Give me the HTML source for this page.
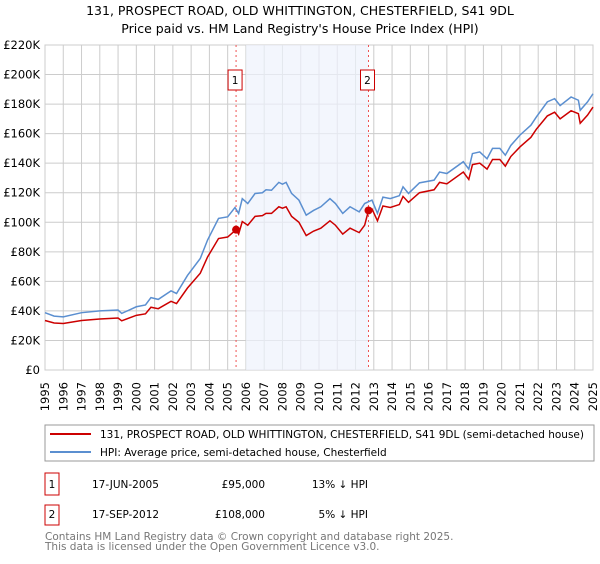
<!DOCTYPE html>
<html><head><meta charset="utf-8"><style>
body{margin:0;background:#fff;font-family:"DejaVu Sans","Liberation Sans",sans-serif;}
svg text{font-family:"DejaVu Sans","Liberation Sans",sans-serif;}
</style></head><body>
<svg id="chart" width="600" height="560" xmlns="http://www.w3.org/2000/svg">
<text x="300" y="15" text-anchor="middle" font-size="12.5" fill="#000">131, PROSPECT ROAD, OLD WHITTINGTON, CHESTERFIELD, S41 9DL</text>
<text x="300" y="33" text-anchor="middle" font-size="12.5" fill="#000">Price paid vs. HM Land Registry's House Price Index (HPI)</text>
<g id="grid"></g><g id="shade"></g><g id="series"></g><g id="axes"></g>
<rect x="45" y="425" width="549" height="36" fill="#fff" stroke="#999"/>
<line x1="50" y1="434" x2="91" y2="434" stroke="#cc0000" stroke-width="2"/>
<text x="100" y="438" font-size="10.5">131, PROSPECT ROAD, OLD WHITTINGTON, CHESTERFIELD, S41 9DL (semi-detached house)</text>
<line x1="50" y1="452" x2="91" y2="452" stroke="#5b8fd0" stroke-width="2"/>
<text x="100" y="456" font-size="10.5">HPI: Average price, semi-detached house, Chesterfield</text>
<g>
<rect x="45" y="473" width="14" height="22" fill="#fff" stroke="#cc0000"/>
<text x="52" y="488" text-anchor="middle" font-size="10.5">1</text>
<text x="92" y="488" font-size="10.5">17-JUN-2005</text>
<text x="265" y="488" text-anchor="end" font-size="10.5">£95,000</text>
<text x="368" y="488" text-anchor="end" font-size="10.5">13% ↓ HPI</text></g>
<g>
<rect x="45" y="505" width="14" height="20" fill="#fff" stroke="#cc0000"/>
<text x="52" y="518" text-anchor="middle" font-size="10.5">2</text>
<text x="92" y="518" font-size="10.5">17-SEP-2012</text>
<text x="265" y="518" text-anchor="end" font-size="10.5">£108,000</text>
<text x="368" y="518" text-anchor="end" font-size="10.5">5% ↓ HPI</text></g>
<text x="45" y="540" font-size="10.5" fill="#777">Contains HM Land Registry data © Crown copyright and database right 2025.</text>
<text x="45" y="550" font-size="10.5" fill="#777">This data is licensed under the Open Government Licence v3.0.</text>
</svg>
<script>
const hpiYears=[1995,1995.5,1996,1997,1998,1999,1999.2,2000,2000.5,2000.8,2001.2,2001.9,2002.2,2002.8,2003.5,2003.9,2004.5,2005,2005.4,2005.6,2005.8,2006.1,2006.5,2006.9,2007.1,2007.4,2007.8,2008,2008.2,2008.5,2008.9,2009.3,2009.7,2010.1,2010.6,2010.9,2011.3,2011.7,2012.2,2012.5,2012.9,2013.2,2013.5,2013.9,2014.4,2014.6,2014.9,2015.5,2016.3,2016.6,2017,2017.9,2018.2,2018.4,2018.8,2019.2,2019.5,2019.9,2020.2,2020.5,2021,2021.6,2021.9,2022.5,2022.9,2023.2,2023.8,2024.2,2024.3,2024.7,2025];
const hpiValues=[38.8,36.5,36,38.8,40,40.6,38.3,42.8,44,49,47.8,53.6,51.8,64,75.5,88,102.6,103.7,110,106,116,112.7,119.5,120,122,121.7,127,125.8,127,119.5,115,104.8,108,110.5,116,112.7,106,110.5,107,112.7,115,106,117,116,118,124,119.5,126.7,128.5,134,133,141,136,146.5,147.6,143,150,150,145.4,152,159,165.7,171.3,181.5,183.7,179,184.8,182.6,175.8,181.5,187];
const priceYears=[1995,1995.5,1996,1997,1998,1999,1999.2,2000,2000.5,2000.8,2001.2,2001.9,2002.2,2002.8,2003.5,2003.9,2004.5,2005,2005.46,2005.6,2005.8,2006.1,2006.5,2006.9,2007.1,2007.4,2007.8,2008,2008.2,2008.5,2008.9,2009.3,2009.7,2010.1,2010.6,2010.9,2011.3,2011.7,2012.2,2012.5,2012.71,2012.9,2013.2,2013.5,2013.9,2014.4,2014.6,2014.9,2015.5,2016.3,2016.6,2017,2017.9,2018.2,2018.4,2018.8,2019.2,2019.5,2019.9,2020.2,2020.5,2021,2021.6,2021.9,2022.5,2022.9,2023.2,2023.8,2024.2,2024.3,2024.7,2025];
const priceValues=[33.5,31.8,31.5,33.5,34.5,35.2,33.3,37,38,42.5,41.5,46.5,45,55.5,65.5,76.5,89,90,95,92,100.5,98,104,104.5,106,106,110.5,109.5,110.5,104,100,91,94,96,101,98,92,96,93,98,108,109,101,111,110,112,117.5,113.5,120,122,127,126,134,129,139,140,136,142.5,142.5,138,144.5,151,157.5,163,172,174.5,170,175.5,173.5,167,172.5,178];
const saleYears=[2005.46,2012.71];
const saleValues=[95,108];
const yTicks=[0,20,40,60,80,100,120,140,160,180,200,220];
const xTicks=[1995,1996,1997,1998,1999,2000,2001,2002,2003,2004,2005,2006,2007,2008,2009,2010,2011,2012,2013,2014,2015,2016,2017,2018,2019,2020,2021,2022,2023,2024,2025];
const X0=45,X1=593,Y0=370,Y1=45;
const xs=y=>X0+(y-1995)/30*(X1-X0);
const ys=v=>Y0-v/220*(Y0-Y1);
const NS="http://www.w3.org/2000/svg";
function mk(tag,attrs,parent){const e=document.createElementNS(NS,tag);for(const k in attrs)e.setAttribute(k,attrs[k]);parent.appendChild(e);return e;}
const grid=document.getElementById('grid'),axes=document.getElementById('axes'),series=document.getElementById('series'),shade=document.getElementById('shade');
mk('rect',{x:X0,y:Y1,width:X1-X0,height:Y0-Y1,fill:'#fff',stroke:'#ccc'},grid);
yTicks.forEach(t=>{
 const l=mk('line',{x1:X0,x2:X1,y1:ys(t),y2:ys(t),stroke:'#ccc'},grid);
 
 
 const tx=mk('text',{x:X0-5,y:ys(t)+4,'text-anchor':'end','font-size':'11.5'},axes);
 tx.textContent=t===0?'£0':'£'+t+'K';
 
 
});
xTicks.forEach(t=>{
 const l=mk('line',{x1:xs(t),x2:xs(t),y1:Y1,y2:Y0,stroke:'#ccc'},grid);
 
 
 const tx=mk('text',{x:0,y:0,'text-anchor':'end','font-size':'11.5',transform:'translate('+(xs(t)+4)+',382) rotate(-90)'},axes);
 tx.textContent=t;
 
 
});
const sh=mk('rect',{x:xs(2006),y:Y1,width:xs(saleYears[1])-xs(2006),height:Y0-Y1,fill:'#eef2fc',opacity:'0.7'},shade);


saleYears.forEach((y,i)=>{
 const l=mk('line',{x1:xs(y),x2:xs(y),y1:Y1,y2:Y0,stroke:'#ee5555','stroke-dasharray':'2,3'},shade);
 
 
 const r=mk('rect',{x:xs(y)-8,y:70,width:14,height:20,fill:'#fff',stroke:'#cc0000'},shade);
 
 
 const t=mk('text',{x:xs(y)-1,y:84,'text-anchor':'middle','font-size':'10.5'},shade);
 t.textContent=String(i+1);
});
const hp=mk('polyline',{points:hpiYears.map((y,i)=>xs(y)+','+ys(hpiValues[i])).join(' '),fill:'none',stroke:'#5b8fd0','stroke-width':'1.5'},series);


const pp=mk('polyline',{points:priceYears.map((y,i)=>xs(y)+','+ys(priceValues[i])).join(' '),fill:'none',stroke:'#cc0000','stroke-width':'1.5'},series);


saleYears.forEach((y,i)=>{
 const c=mk('circle',{cx:xs(y),cy:ys(saleValues[i]),r:4,fill:'#cc0000'},series);
 
 
});
</script>
</body></html>
